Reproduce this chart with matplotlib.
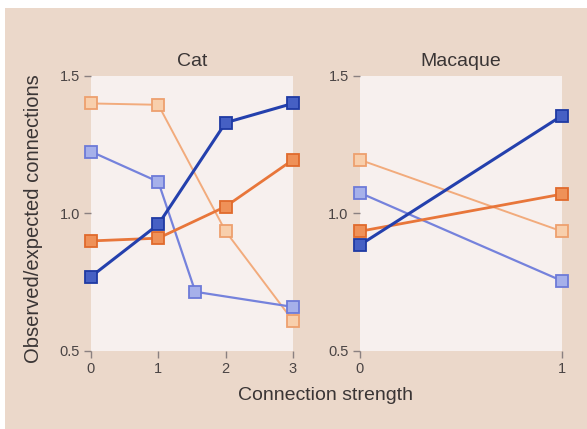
import matplotlib.pyplot as plt
from matplotlib.patches import Rectangle

plt.rcParams['font.family'] = ['Liberation Sans', 'DejaVu Sans']

# Observed/expected ratios against connection strength
cat_x = [0, 1, 2, 3]
cat_peach = [1.40, 1.395, 0.935, 0.61]
cat_blue_light_x = [0, 1, 1.55, 3]
cat_blue_light = [1.225, 1.115, 0.715, 0.66]
cat_blue_dark = [0.77, 0.96, 1.33, 1.40]
cat_orange = [0.90, 0.91, 1.025, 1.195]

mac_x = [0, 1]
mac_peach = [1.195, 0.935]
mac_blue_light = [1.075, 0.755]
mac_blue_dark = [0.885, 1.355]
mac_orange = [0.935, 1.07]

styles = {
    'peach': dict(color='#f2ab7c', mfc='#f8cfac', mec='#eea06e', lw=1.4),
    'blue_light': dict(color='#7582dc', mfc='#a6b0ea', mec='#6d7ad8', lw=1.6),
    'blue_dark': dict(color='#2440ad', mfc='#4660c4', mec='#1f3aa3', lw=2.2),
    'orange': dict(color='#e8763a', mfc='#ef9158', mec='#e06a2c', lw=2.0),
}

bg = '#ebd8ca'
face = '#f7f0ee'
ink = '#3a3535'

fig = plt.figure(figsize=(5.87, 4.29), dpi=100, facecolor=bg)
# white margin along top and left edge
fig.patches.append(Rectangle((0, 0.981), 1, 0.02, transform=fig.transFigure,
                             facecolor='white', edgecolor='none'))
fig.patches.append(Rectangle((0, 0), 0.009, 1, transform=fig.transFigure,
                             facecolor='white', edgecolor='none'))

ax1 = fig.add_axes([0.155, 0.182, 0.344, 0.641])
ax2 = fig.add_axes([0.613, 0.182, 0.344, 0.641])


def draw(ax, x, key, y):
    s = styles[key]
    ax.plot(x, y, color=s['color'], lw=s['lw'], marker='s', markersize=8.5,
            markerfacecolor=s['mfc'], markeredgecolor=s['mec'],
            markeredgewidth=1.3, clip_on=False, zorder=3)


draw(ax1, cat_x, 'peach', cat_peach)
draw(ax1, cat_blue_light_x, 'blue_light', cat_blue_light)
draw(ax1, cat_x, 'orange', cat_orange)
draw(ax1, cat_x, 'blue_dark', cat_blue_dark)

draw(ax2, mac_x, 'peach', mac_peach)
draw(ax2, mac_x, 'blue_light', mac_blue_light)
draw(ax2, mac_x, 'orange', mac_orange)
draw(ax2, mac_x, 'blue_dark', mac_blue_dark)

for ax, xt, title in [(ax1, cat_x, 'Cat'), (ax2, mac_x, 'Macaque')]:
    ax.set_facecolor(face)
    ax.set_xlim(xt[0], xt[-1])
    ax.set_ylim(0.5, 1.5)
    ax.set_xticks(xt)
    ax.set_yticks([0.5, 1.0, 1.5])
    ax.set_yticklabels(['0.5', '1.0', '1.5'])
    for sp in ax.spines.values():
        sp.set_visible(False)
    ax.tick_params(direction='out', length=5, width=1, color='#8a8080',
                   labelcolor='#4a4444', labelsize=10.5, pad=3)
    ax.set_title(title, fontsize=14, color=ink, pad=7)

fig.text(0.057, 0.49, 'Observed/expected connections', rotation=90,
         ha='center', va='center', fontsize=14.5, color=ink)
fig.text(0.555, 0.077, 'Connection strength', ha='center', va='center',
         fontsize=14, color=ink)

fig.savefig('out.png', dpi=100, facecolor=bg)
